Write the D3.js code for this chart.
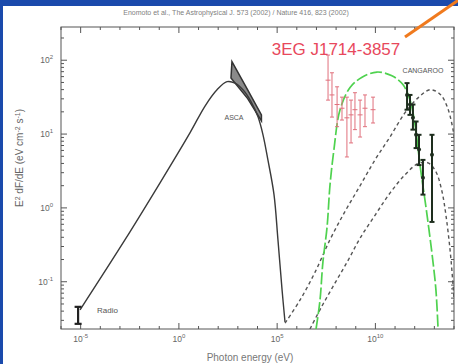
<!DOCTYPE html>
<html><head><meta charset="utf-8">
<script src="https://cdn.jsdelivr.net/npm/d3@7"></script>
<style>body{margin:0;background:#1a4aac;} svg{display:block}</style>
</head><body>
<svg id="c" width="458" height="364"></svg>
<script>
// ---- data (log10 E [eV], log10 E^2 dF/dE) ----
const xTickExps = [-5, 0, 5, 10];
const yTickExps = [-1, 0, 1, 2];
const synchLogE = [-5.03,-2.74,-0.96,0.57,1.33,1.94,2.45,2.86,3.26,3.67,4.03,4.28,4.53,4.84,5.04,5.25,5.40];
const synchLogF = [-1.38,-0.43,0.34,1.02,1.38,1.60,1.71,1.69,1.60,1.44,1.23,0.99,0.65,0.18,-0.43,-1.11,-1.545];
const pionLogE = [6.98,7.18,7.33,7.54,7.69,7.89,8.20,8.71,9.32,10.08,10.84,11.40,11.76,12.02,12.27,12.63,12.93,13.08,13.19];
const pionLogF = [-1.64,-1.25,-0.73,-0.26,0.31,0.79,1.33,1.63,1.77,1.84,1.79,1.67,1.46,1.12,0.58,-0.10,-0.73,-1.11,-1.64];
const ic1LogE = [5.40,6.16,6.93,7.69,8.45,9.22,9.98,10.74,11.51,12.17,12.78,13.29,13.64,13.95,14.2];
const ic1LogF = [-1.56,-1.25,-0.87,-0.43,-0.05,0.30,0.65,0.96,1.29,1.49,1.60,1.54,1.38,1.06,0.51];
const ic2LogE = [6.67,7.28,7.94,8.61,9.22,9.98,10.74,11.51,12.17,12.68,13.08,13.39,13.59,13.80,13.95,14.1];
const ic2LogF = [-1.64,-1.33,-1.02,-0.71,-0.41,-0.10,0.20,0.45,0.60,0.61,0.49,0.22,-0.10,-0.57,-1.04,-1.6];
const egretLogE = [7.59,7.79,8.05,8.30,8.55,8.76,8.96,9.22,9.47,9.88];
const egretLogF = [1.73,1.53,1.40,1.35,1.22,1.26,1.33,1.26,1.35,1.33];
const egretHi   = [2.07,1.83,1.64,1.50,1.50,1.46,1.56,1.46,1.53,1.50];
const egretLo   = [1.46,1.23,1.10,1.19,0.69,0.88,1.06,0.96,1.10,1.15];
const cangLogE = [11.61,11.76,11.91,12.07,12.22,12.42,12.88];
const cangLogF = [1.53,1.40,1.22,0.99,0.79,0.41,0.72];
const cangHi   = [1.69,1.53,1.40,1.17,0.99,0.65,0.99];
const cangLo   = [1.33,1.26,1.06,0.81,0.58,0.18,-0.19];
const radioLogE = [-5.13], radioLogF = [-1.46], radioHi = [-1.34], radioLo = [-1.57];
const ascaUpperLogE = [2.7,3.5,4.2], ascaUpperLogF = [1.98,1.60,1.26];
const ascaLowerLogE = [4.2,3.5,2.65], ascaLowerLogF = [1.18,1.48,1.76];

const svg = d3.select("#c");
const W = 458, H = 364;
svg.append("rect").attr("width",W).attr("height",H).attr("fill","#1a4aac");
svg.append("rect").attr("x",3).attr("y",6).attr("width",W-3).attr("height",H-6).attr("fill","#ffffff");

const L = 61, R = 454, T = 27, B = 329;
const x = d3.scaleLog().domain([1e-6, 1e14]).range([L, R]);
const y = d3.scaleLog().domain([Math.pow(10,-1.64), Math.pow(10,2.45)]).range([B, T]);
const X = e => x(Math.pow(10,e)), Y = f => y(Math.pow(10,f));

svg.append("text").attr("x",236).attr("y",15).attr("text-anchor","middle")
  .attr("font-family","Liberation Sans, Arial").attr("font-size",7).attr("fill","#808080")
  .text("Enomoto et al., The Astrophysical J. 573 (2002) / Nature 416, 823 (2002)");

const axc = "#555";
svg.append("rect").attr("x",L).attr("y",T).attr("width",R-L).attr("height",B-T)
  .attr("fill","none").attr("stroke",axc).attr("stroke-width",1);

const tk = svg.append("g").attr("stroke",axc).attr("stroke-width",1);
for (let e=-6; e<=14; e++) {
  const px = X(e), len = (xTickExps.includes(e)) ? 6 : 3;
  tk.append("line").attr("x1",px).attr("x2",px).attr("y1",B).attr("y2",B-len);
  tk.append("line").attr("x1",px).attr("x2",px).attr("y1",T).attr("y2",T+len);
}
for (let e=-2; e<=2; e++) {
  for (let m=1; m<10; m++) {
    const v = m*Math.pow(10,e);
    if (v < y.domain()[0] || v > y.domain()[1]) continue;
    const py = y(v), len = m===1 ? 6 : 3;
    tk.append("line").attr("y1",py).attr("y2",py).attr("x1",L).attr("x2",L+len);
    tk.append("line").attr("y1",py).attr("y2",py).attr("x1",R).attr("x2",R-len);
  }
}
const lf = "Liberation Sans, Arial";
xTickExps.forEach(e=>{
  const t = svg.append("text").attr("x",X(e)).attr("y",342).attr("text-anchor","middle")
    .attr("font-family",lf).attr("font-size",8.5).attr("fill","#666");
  t.append("tspan").text("10");
  t.append("tspan").attr("dy",-4).attr("font-size",6).text(e);
});
yTickExps.forEach(e=>{
  const t = svg.append("text").attr("x",53).attr("y",Y(e)+3).attr("text-anchor","end")
    .attr("font-family",lf).attr("font-size",8.5).attr("fill","#666");
  t.append("tspan").text("10");
  t.append("tspan").attr("dy",-4).attr("font-size",6).text(e);
});
svg.append("text").attr("x",250).attr("y",361).attr("text-anchor","middle")
  .attr("font-family",lf).attr("font-size",10).attr("fill","#777").text("Photon energy (eV)");
const yl = svg.append("text").attr("transform","translate(23,158) rotate(-90)").attr("text-anchor","middle")
  .attr("font-family",lf).attr("font-size",10).attr("fill","#666");
yl.append("tspan").text("E");
yl.append("tspan").attr("dy",-3).attr("font-size",7).text("2");
yl.append("tspan").attr("dy",3).text(" dF/dE (eV cm");
yl.append("tspan").attr("dy",-3).attr("font-size",7).text("-2");
yl.append("tspan").attr("dy",3).text(" s");
yl.append("tspan").attr("dy",-3).attr("font-size",7).text("-1");
yl.append("tspan").attr("dy",3).text(")");

svg.append("clipPath").attr("id","pc").append("rect").attr("x",L).attr("y",T).attr("width",R-L).attr("height",B-T);
const g = svg.append("g").attr("clip-path","url(#pc)");
const zip = (a,b)=>a.map((v,i)=>[v,b[i]]);
const line = d3.line().x(d=>X(d[0])).y(d=>Y(d[1])).curve(d3.curveCatmullRom.alpha(0.5));

const bow = zip(ascaUpperLogE,ascaUpperLogF).concat(zip(ascaLowerLogE,ascaLowerLogF));
g.append("path").attr("d", d3.line().x(d=>X(d[0])).y(d=>Y(d[1]))(bow)+"Z")
  .attr("fill","#8a8a8a").attr("stroke","#333").attr("stroke-width",1.5);

g.append("path").attr("d",line(zip(synchLogE,synchLogF))).attr("fill","none").attr("stroke","#3a3a3a").attr("stroke-width",1.4);
[[ic1LogE,ic1LogF],[ic2LogE,ic2LogF]].forEach(([a,b])=>{
  g.append("path").attr("d",line(zip(a,b))).attr("fill","none").attr("stroke","#555")
   .attr("stroke-width",1.4).attr("stroke-dasharray","3.5,3");
});
g.append("path").attr("d",line(zip(pionLogE,pionLogF))).attr("fill","none").attr("stroke","#4fd24f")
  .attr("stroke-width",1.7).attr("stroke-dasharray","12,3");

const eg = g.append("g").attr("stroke","#e0707c").attr("stroke-width",1);
egretLogE.forEach((e,i)=>{
  const px = X(e);
  eg.append("line").attr("x1",px).attr("x2",px).attr("y1",Y(egretHi[i])).attr("y2",Y(egretLo[i]));
  eg.append("line").attr("x1",px-2).attr("x2",px+2).attr("y1",Y(egretHi[i])).attr("y2",Y(egretHi[i]));
  eg.append("line").attr("x1",px-2).attr("x2",px+2).attr("y1",Y(egretLo[i])).attr("y2",Y(egretLo[i]));
  eg.append("line").attr("x1",px-2.5).attr("x2",px+2.5).attr("y1",Y(egretLogF[i])).attr("y2",Y(egretLogF[i]));
});
const cg = g.append("g").attr("stroke","#1e2e1e").attr("stroke-width",2);
cangLogE.forEach((e,i)=>{
  const px = X(e);
  cg.append("line").attr("x1",px).attr("x2",px).attr("y1",Y(cangHi[i])).attr("y2",Y(cangLo[i]));
  cg.append("line").attr("x1",px-2.5).attr("x2",px+2.5).attr("y1",Y(cangHi[i])).attr("y2",Y(cangHi[i]));
  cg.append("line").attr("x1",px-2.5).attr("x2",px+2.5).attr("y1",Y(cangLo[i])).attr("y2",Y(cangLo[i]));
  cg.append("circle").attr("cx",px).attr("cy",Y(cangLogF[i])).attr("r",2).attr("fill","#1e2e1e").attr("stroke","none");
});
const rg = g.append("g").attr("stroke","#222").attr("stroke-width",2.2);
radioLogE.forEach((e,i)=>{
  const px = X(e);
  rg.append("line").attr("x1",px).attr("x2",px).attr("y1",Y(radioHi[i])).attr("y2",Y(radioLo[i]));
  rg.append("line").attr("x1",px-3.5).attr("x2",px+3.5).attr("y1",Y(radioHi[i])).attr("y2",Y(radioHi[i]));
  rg.append("line").attr("x1",px-3.5).attr("x2",px+3.5).attr("y1",Y(radioLo[i])).attr("y2",Y(radioLo[i]));
});

svg.append("text").attr("x",97).attr("y",313).attr("font-family",lf).attr("font-size",8).attr("fill","#555").text("Radio");
svg.append("text").attr("x",234).attr("y",120).attr("text-anchor","middle").attr("font-family",lf).attr("font-size",7).attr("fill","#555").text("ASCA");
svg.append("text").attr("x",423).attr("y",73).attr("text-anchor","middle").attr("font-family",lf).attr("font-size",7).attr("fill","#555").text("CANGAROO");
svg.append("text").attr("x",336).attr("y",55).attr("text-anchor","middle").attr("font-family",lf).attr("font-size",17).attr("fill","#e8485c").text("3EG J1714-3857");

svg.append("line").attr("x1",405).attr("y1",37).attr("x2",460).attr("y2",-1).attr("stroke","#f07a1e").attr("stroke-width",3);
</script>
</body></html>
